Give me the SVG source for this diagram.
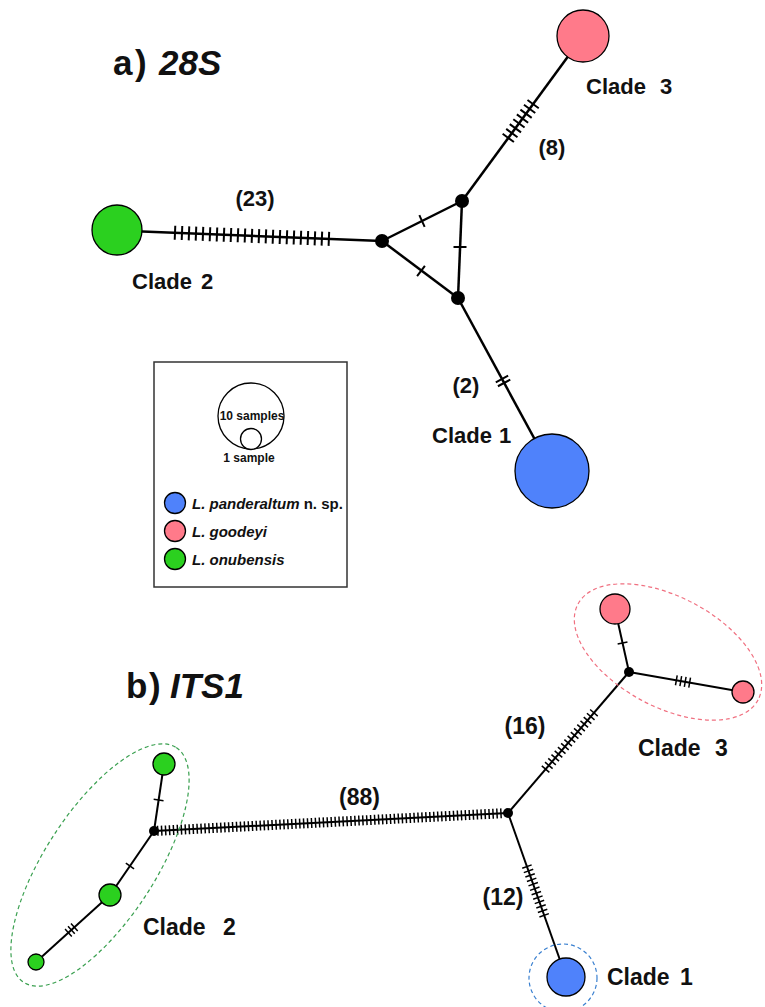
<svg xmlns="http://www.w3.org/2000/svg" width="765" height="1007" viewBox="0 0 765 1007">
<style>
text{font-family:"Liberation Sans",Arial,sans-serif;font-weight:bold;fill:#111}
.title{font-size:35px}
.it{font-style:italic}
.lbl{font-size:22px;text-anchor:middle}
.cladeA{font-size:22px}
.cladeB{font-size:23px}
.la{stroke:#000;stroke-width:2.5;fill:none}
.lb{stroke:#000;stroke-width:2;fill:none}
.ha{stroke:#000;stroke-width:14;fill:none;stroke-linecap:butt}
.hb{stroke:#000;stroke-width:10;fill:none;stroke-linecap:butt}
.node{stroke:#000;stroke-width:1.3}
.pink{fill:#ff7a8a}
.green{fill:#2bd01f}
.blue{fill:#4f82fb}
.dot{fill:#000}
.leg{font-size:15px}
.small{font-size:12px;text-anchor:middle}
</style>

<g id="titles">
<text class="title" x="113" y="75">a</text><text class="title" x="135" y="75">)</text><text class="title it" x="159" y="75">28S</text>
<text class="title" x="126" y="698">b</text><text class="title" x="149" y="698">)</text><text class="title it" x="170" y="698">ITS1</text>
</g>

<g id="connectors">
<!-- part a -->
<line class="la" x1="117" y1="230.5" x2="382" y2="241"/>
<line class="la" x1="382" y1="241" x2="462" y2="201"/>
<line class="la" x1="382" y1="241" x2="458" y2="298"/>
<line class="la" x1="462" y1="201" x2="458" y2="298"/>
<line class="la" x1="462" y1="201" x2="583" y2="36"/>
<line class="la" x1="458" y1="298" x2="552" y2="471"/>
<line class="ha" x1="174" y1="232.76" x2="329.9" y2="238.94" stroke-dasharray="2 5"/>
<line class="ha" x1="507.7" y1="138.7" x2="533.7" y2="103.3" stroke-dasharray="2 4"/>
<line class="ha" x1="501.5" y1="378.1" x2="504.6" y2="383.9" stroke-dasharray="2 2.5"/>
<line class="ha" style="stroke-width:13" x1="421.1" y1="221.4" x2="422.9" y2="220.6"/>
<line class="ha" style="stroke-width:13" x1="420.2" y1="270.4" x2="421.8" y2="271.6"/>
<line class="ha" style="stroke-width:13" x1="460" y1="246" x2="460" y2="248"/>
<!-- part b -->
<line class="lb" x1="154" y1="831" x2="508" y2="813"/>
<line class="lb" x1="508" y1="813" x2="629" y2="672"/>
<line class="lb" x1="508" y1="813" x2="566" y2="977"/>
<line class="lb" x1="629" y1="672" x2="615" y2="609"/>
<line class="lb" x1="629" y1="672" x2="743" y2="692"/>
<line class="lb" x1="154" y1="831" x2="164" y2="764"/>
<line class="lb" x1="154" y1="831" x2="110" y2="895"/>
<line class="lb" x1="110" y1="895" x2="36" y2="962"/>
<line class="hb" x1="157" y1="830.85" x2="501.7" y2="813.3" stroke-dasharray="1.5 2.45"/>
<line class="hb" x1="545.1" y1="769.7" x2="594.4" y2="712.3" stroke-dasharray="1.5 3.45"/>
<line class="hb" x1="526.7" y1="865.8" x2="544.4" y2="916" stroke-dasharray="1.5 3.2"/>
<line class="hb" x1="622.7" y1="643.7" x2="622.4" y2="642.2"/>
<line class="hb" x1="675.6" y1="680.2" x2="690.4" y2="682.8" stroke-dasharray="1.5 3"/>
<line class="hb" x1="158.5" y1="800.7" x2="158.7" y2="799.3"/>
<line class="hb" x1="130.4" y1="865.3" x2="129.5" y2="866.6"/>
<line class="hb" x1="74.9" y1="926.8" x2="67.85" y2="933.2" stroke-dasharray="1.5 2.5"/>
</g>

<g id="edge-labels">
<text class="lbl" x="255" y="206">(23)</text>
<text class="lbl" x="552" y="155">(8)</text>
<text class="lbl" x="466" y="393">(2)</text>
<text class="lbl" x="359.5" y="805" style="font-size:23px">(88)</text>
<text class="lbl" x="525" y="734" style="font-size:23px">(16)</text>
<text class="lbl" x="503" y="905" style="font-size:23px">(12)</text>
</g>

<g id="clade3-a">
<circle class="node pink" cx="583" cy="36" r="26"/>
<text class="cladeA" x="586" y="94">Clade<tspan x="660">3</tspan></text>
</g>
<g id="clade2-a">
<circle class="node green" cx="117" cy="230" r="25"/>
<text class="cladeA" x="132" y="289">Clade<tspan x="201">2</tspan></text>
</g>
<g id="clade1-a">
<circle class="node blue" cx="552" cy="471" r="37"/>
<text class="cladeA" x="432" y="443">Clade<tspan x="499">1</tspan></text>
</g>
<g id="median-a">
<circle class="dot" cx="382" cy="241" r="7"/>
<circle class="dot" cx="462" cy="201" r="7"/>
<circle class="dot" cx="458" cy="298" r="7"/>
</g>

<g id="legend">
<rect x="154" y="362" width="193" height="225" fill="#fff" stroke="#333" stroke-width="1.5"/>
<circle cx="251" cy="416" r="33" fill="none" stroke="#000" stroke-width="1.3"/>
<circle cx="251" cy="439" r="10.5" fill="#fff" stroke="#000" stroke-width="1.3"/>
<text class="small" x="252" y="420">10 samples</text>
<text class="small" x="249" y="462">1 sample</text>
<circle class="node blue" cx="175" cy="503" r="10.5"/>
<circle class="node pink" cx="175" cy="531" r="10.5"/>
<circle class="node green" cx="175" cy="559" r="10.5"/>
<text class="leg" x="192" y="509"><tspan class="it">L. panderaltum</tspan> n. sp.</text>
<text class="leg it" x="192" y="537">L. goodeyi</text>
<text class="leg it" x="192" y="565">L. onubensis</text>
</g>

<g id="clade2-b">
<ellipse cx="100" cy="865" rx="140" ry="55" transform="rotate(-57 100 865)" fill="none" stroke="#3aa050" stroke-width="1.2" stroke-dasharray="4 3"/>
<circle class="node green" cx="164" cy="764" r="11"/>
<circle class="node green" cx="110" cy="895" r="11"/>
<circle class="node green" cx="36" cy="962" r="8"/>
<circle class="dot" cx="154" cy="831" r="5"/>
<text class="cladeB" x="143" y="935">Clade<tspan x="223">2</tspan></text>
</g>
<g id="clade3-b">
<ellipse cx="668" cy="652" rx="102" ry="55" transform="rotate(28 668 652)" fill="none" stroke="#f07080" stroke-width="1.2" stroke-dasharray="4 3"/>
<circle class="node pink" cx="615" cy="609" r="15"/>
<circle class="node pink" cx="743" cy="692" r="11"/>
<circle class="dot" cx="629" cy="672" r="5"/>
<text class="cladeB" x="638" y="756">Clade<tspan x="715">3</tspan></text>
</g>
<g id="median-b">
<circle class="dot" cx="508" cy="813" r="5"/>
</g>
<g id="clade1-b">
<circle cx="563" cy="978" r="34" fill="none" stroke="#3a80d0" stroke-width="1.2" stroke-dasharray="4 3"/>
<circle class="node blue" cx="566" cy="977" r="19"/>
<text class="cladeB" x="607" y="985">Clade<tspan x="680">1</tspan></text>
</g>
</svg>
